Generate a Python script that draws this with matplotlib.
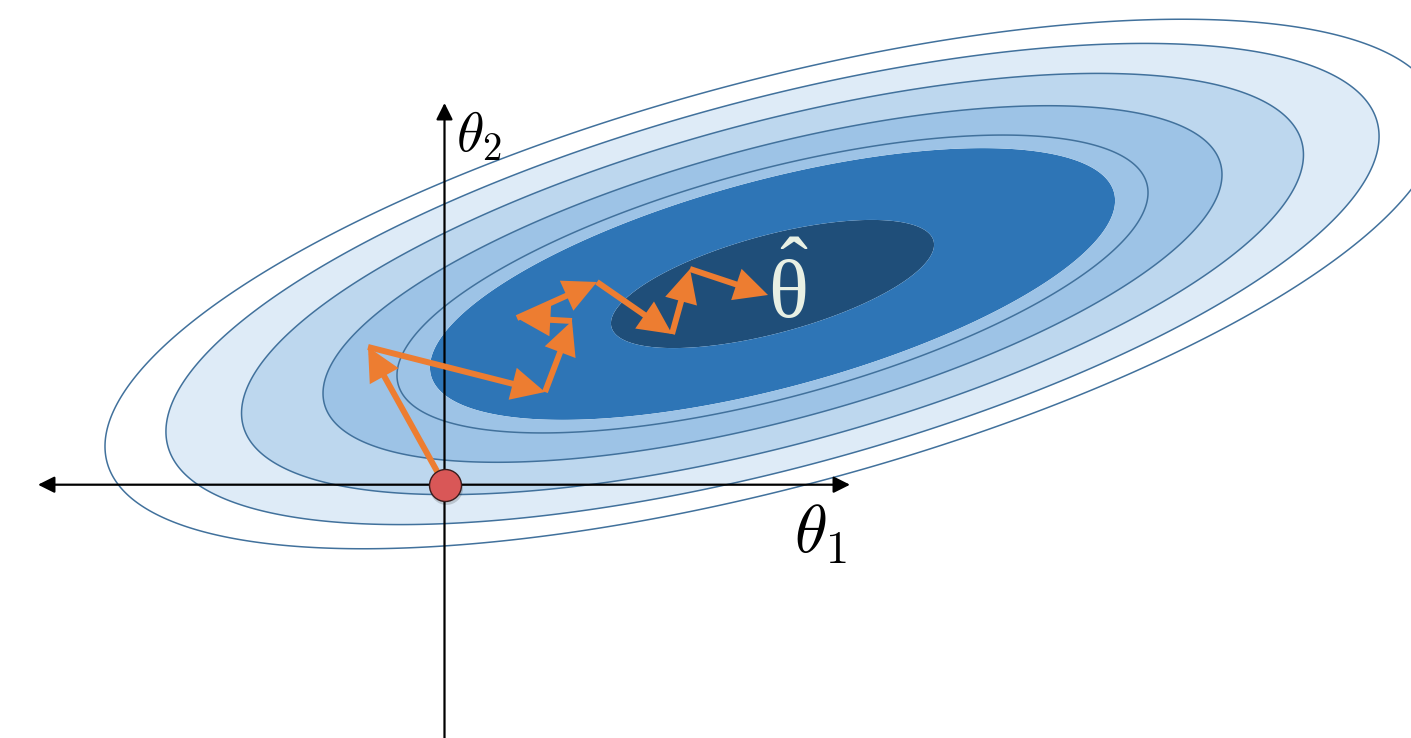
import numpy as np
import matplotlib
matplotlib.use("Agg")
import matplotlib.pyplot as plt
from matplotlib.patches import FancyArrowPatch
from matplotlib.patches import ArrowStyle

plt.rcParams['mathtext.fontset'] = 'cm'
plt.rcParams['mathtext.rm'] = 'Liberation Serif'

# ---- data ----
theta_hat = (3.28, 2.007)          # minimum of the loss
tilt_deg = 15.0                    # orientation of loss ellipses
axis_ratio = 3.4                   # major / minor axis ratio
# loss levels (from inner to outer)
fill_levels = [0.0, 2.78, 12.50, 15.02, 21.52, 30.03, 39.19]
fill_colors = ['#1F4E79', '#2E75B6', '#9DC3E6', '#9DC3E6', '#BDD7EE', '#DEEBF7']
line_levels = [15.02, 21.52, 30.03, 39.19, 47.46]
# gradient-descent path (theta1, theta2)
path_t1 = [0.0, -0.765, 1.005, 1.275, 0.725, 1.525, 2.275, 2.455, 3.235]
path_t2 = [0.0, 1.377, 0.927, 1.637, 1.667, 2.027, 1.507, 2.157, 1.897]
# axis extents
x_axis = (-4.065, 4.055)
y_axis = (-2.7, 3.817)

fig = plt.figure(figsize=(14.11, 7.38), dpi=100)
ax = fig.add_axes([0, 0, 1, 1])
ax.set_xlim(-4.445, 9.665)
ax.set_ylim(-2.533, 4.847)
ax.axis('off')

# loss surface
xs = np.linspace(-4.6, 9.8, 1800)
ys = np.linspace(-2.7, 5.0, 1000)
X, Y = np.meshgrid(xs, ys)
phi = np.deg2rad(tilt_deg)
dx = X - theta_hat[0]
dy = Y - theta_hat[1]
u = dx * np.cos(phi) + dy * np.sin(phi)
v = -dx * np.sin(phi) + dy * np.cos(phi)
L = u ** 2 + (axis_ratio * v) ** 2

ax.contourf(X, Y, L, levels=fill_levels, colors=fill_colors, zorder=1, antialiased=True)
ax.contour(X, Y, L, levels=line_levels, colors='#41719C', linewidths=1.1, zorder=2)

# axes arrows
ax.add_patch(FancyArrowPatch((x_axis[0], 0), (x_axis[1], 0),
                             arrowstyle=ArrowStyle('<|-|>', head_length=0.5, head_width=0.25),
                             mutation_scale=20, color='black', lw=1.6,
                             shrinkA=0, shrinkB=0, zorder=3))
ax.add_patch(FancyArrowPatch((0, y_axis[0]), (0, y_axis[1]),
                             arrowstyle=ArrowStyle('-|>', head_length=0.5, head_width=0.25),
                             mutation_scale=20, color='black', lw=1.6,
                             shrinkA=0, shrinkB=0, zorder=3))

# path arrows
for i in range(len(path_t1) - 1):
    ax.add_patch(FancyArrowPatch((path_t1[i], path_t2[i]), (path_t1[i + 1], path_t2[i + 1]),
                                 arrowstyle=ArrowStyle('-|>', head_length=0.85, head_width=0.42),
                                 mutation_scale=20, color='#ED7D31', lw=4.3,
                                 shrinkA=0, shrinkB=0, joinstyle='miter',
                                 capstyle='butt', zorder=4))

# start point
ax.scatter([path_t1[0] + 0.015], [path_t2[0] - 0.03], s=560, color='black', alpha=0.16,
           lw=0, zorder=5)
ax.scatter([path_t1[0]], [path_t2[0]], s=530, color='#D95757', edgecolor='#3A1C1C',
           linewidth=1.0, zorder=6)

# labels
ax.text(0.11, 3.33, r'$\theta_2$', fontsize=40, color='black', ha='left', va='baseline', zorder=7)
ax.text(3.50, -0.68, r'$\theta_1$', fontsize=48, color='black', ha='left', va='baseline', zorder=7)
ax.text(3.44, 1.67, r'$\hat{\mathrm{θ}}$', fontsize=60, math_fontfamily='custom',
        color='#E8F0E4', ha='center', va='baseline', zorder=7)

fig.savefig('out.png', dpi=100)
